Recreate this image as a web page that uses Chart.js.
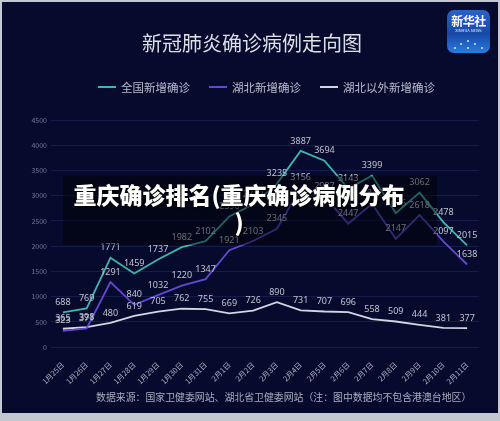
<!DOCTYPE html>
<html>
<head>
<meta charset="utf-8">
<script src="https://cdn.jsdelivr.net/npm/chart.js@4"></script>
<style>
  body { margin: 0; width: 500px; height: 421px; background: #c3c7cf; position: relative; overflow: hidden;
         font-family: 'Noto Sans CJK SC', 'Noto Sans', sans-serif; }
  #bg { position: absolute; left: 2px; top: 2px; width: 496px; height: 411px; background: #060b2d; }
  #chart { position: absolute; left: 0; top: 0; }
  #title { position: absolute; left: 0; width: 504px; top: 29px; text-align: center; font-size: 20px; color: #dcdfe8; line-height: 28px; }
  #legend { position: absolute; left: 98px; top: 79px; height: 16px; display: flex; align-items: center; font-size: 11.5px; color: #b9bdcf; }
  #legend .item { display: flex; align-items: center; margin-right: 19px; }
  #legend .swatch { width: 18px; height: 2px; margin-right: 5px; }
  #source { position: absolute; left: 96px; top: 390px; font-size: 9.9px; color: #a9adbf; white-space: nowrap; }
  #logo { position: absolute; left: 447px; top: 10px; width: 43px; height: 43px; border-radius: 7px;
          background: linear-gradient(#2b62c6, #1748a6 55%, #2a7be0); overflow: hidden; text-align: center; color: #fff; }
  #logo .cn { font-size: 12px; font-weight: bold; margin-top: 4px; line-height: 14px; letter-spacing: -0.5px; }
  #logo .en { font-size: 4px; line-height: 5px; color: #e6ecf8; }
  #logo i { position: absolute; width: 2px; height: 2px; border-radius: 1px; background: #dfe9ff; }
  #banner { position: absolute; left: 63px; top: 176px; width: 374px; height: 69px; background: rgba(0,0,0,0.45); }
  #bannerText { position: absolute; left: 63px; top: 181px; width: 352px; text-align: center; font-size: 23px; font-weight: 900;
                line-height: 27px; color: #fff; text-shadow: 0 0 3px #000, 1px 1px 2px #000; }
</style>
</head>
<body>
<div id="bg"></div>
<canvas id="chart" width="500" height="391"></canvas>
<div id="title">新冠肺炎确诊病例走向图</div>
<div id="legend"></div>
<div id="source">数据来源：国家卫健委网站、湖北省卫健委网站（注：图中数据均不包含港澳台地区）</div>
<div id="logo"><div class="cn">新华社</div><div class="en">XINHUA NEWS</div>
  <i style="left:20px;top:30px"></i><i style="left:13px;top:33px"></i><i style="left:27px;top:33px"></i>
  <i style="left:7px;top:37px"></i><i style="left:20px;top:37px"></i><i style="left:34px;top:37px"></i>
</div>
<div id="banner"></div>
<div id="bannerText">重庆确诊排名(重庆确诊病例分布<br>)</div>
<script>
const dates = ['1月25日', '1月26日', '1月27日', '1月28日', '1月29日', '1月30日', '1月31日', '2月1日', '2月2日',
  '2月3日', '2月4日', '2月5日', '2月6日', '2月7日', '2月8日', '2月9日', '2月10日', '2月11日'];
const national = [688, 769, 1771, 1459, 1737, 1982, 2102, 2590, 2829, 3235, 3887, 3694, 3143, 3399, 2656, 3062, 2478, 2015];
const hubei = [323, 371, 1291, 840, 1032, 1220, 1347, 1921, 2103, 2345, 3156, 2987, 2447, 2841, 2147, 2618, 2097, 1638];
const outside = [365, 398, 480, 619, 705, 762, 755, 669, 726, 890, 731, 707, 696, 558, 509, 444, 381, 377];
const seriesNames = ['全国新增确诊', '湖北新增确诊', '湖北以外新增确诊'];
const seriesColors = ['#3fb5ae', '#6447d2', '#d3d6e2'];

Chart.defaults.font.family = "'Noto Sans CJK SC', 'Noto Sans', sans-serif";

// value labels above each point
const valueLabels = {
  id: 'valueLabels',
  afterDatasetsDraw(chart) {
    const ctx = chart.ctx;
    ctx.save();
    ctx.font = "9px 'Noto Sans', 'Noto Sans CJK SC', sans-serif";
    ctx.fillStyle = '#c0c4d2';
    ctx.textAlign = 'center';
    ctx.textBaseline = 'middle';
    chart.data.datasets.forEach((ds, i) => {
      chart.getDatasetMeta(i).data.forEach((pt, j) => {
        ctx.fillText(ds.data[j], pt.x, pt.y - 10);
      });
    });
    ctx.restore();
  }
};

const allSeries = [national, hubei, outside];
const chart = new Chart(document.getElementById('chart'), {
  type: 'line',
  data: {
    labels: dates,
    datasets: allSeries.map((s, i) => ({
      label: seriesNames[i],
      data: s,
      borderColor: seriesColors[i],
      backgroundColor: seriesColors[i],
      borderWidth: 1.8,
      pointRadius: 0,
      tension: 0
    }))
  },
  options: {
    responsive: false,
    animation: false,
    layout: { padding: { top: 120, right: 21, bottom: 0, left: 0 } },
    plugins: { legend: { display: false }, title: { display: false }, tooltip: { enabled: false } },
    scales: {
      x: {
        offset: true,
        grid: { display: false },
        border: { display: false },
        ticks: { color: '#afb3c5', font: { size: 7.5 }, minRotation: 45, maxRotation: 45, padding: 5, autoSkip: false }
      },
      y: {
        min: 0, max: 4500,
        ticks: { stepSize: 500, color: '#70769a', font: { size: 7 }, padding: 4, callback: v => String(v) },
        grid: { color: '#161d4c', drawTicks: false },
        border: { display: false },
        afterFit(scale) { scale.width = 51; }
      }
    }
  },
  plugins: [valueLabels]
});

// legend built from the datasets
const legend = document.getElementById('legend');
chart.data.datasets.forEach(ds => {
  const item = document.createElement('div');
  item.className = 'item';
  item.innerHTML = '<span class="swatch" style="background:' + ds.borderColor + '"></span>' + ds.label;
  legend.appendChild(item);
});
</script>
</body>
</html>
